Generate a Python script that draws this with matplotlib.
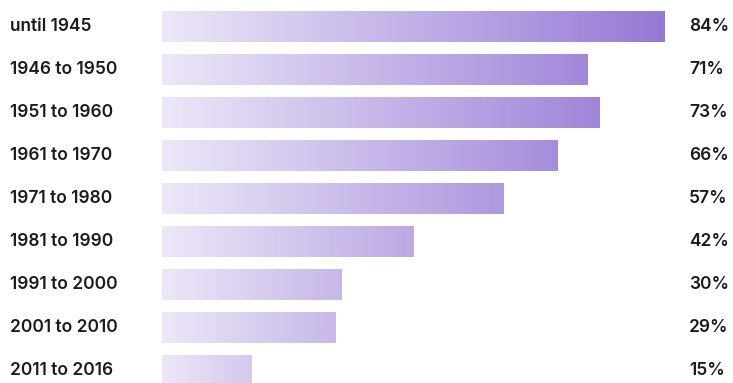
import matplotlib
matplotlib.use("Agg")
import matplotlib.pyplot as plt
import numpy as np
from matplotlib.colors import LinearSegmentedColormap

# share of buildings per construction period
periods = ["until 1945", "1946 to 1950", "1951 to 1960", "1961 to 1970",
           "1971 to 1980", "1981 to 1990", "1991 to 2000", "2001 to 2010",
           "2011 to 2016"]
shares = [84, 71, 73, 66, 57, 42, 30, 29, 15]
share_labels = ["84%", "71%", "73%", "66%", "57%", "42%", "30%", "29%", "15%"]

plt.rcParams["font.family"] = ["Inter", "DejaVu Sans"]

W, H, DPI = 733, 383, 100
fig = plt.figure(figsize=(W / DPI, H / DPI), dpi=DPI)
fig.patch.set_facecolor("white")

# axes run from the bar baseline to the right edge of the figure
x0 = 162
ax = fig.add_axes([x0 / W, 0, 1 - x0 / W, 1])
px_per_unit = (665 - x0) / 84
ax.set_xlim(0, (W - x0) / px_per_unit)
row = 43
ax.set_axis_off()

cmap = LinearSegmentedColormap.from_list("lilac", ["#ede7f8", "#9579d5"])
vmax = max(shares)
bar_h = 0.70

bars = ax.barh(range(len(shares)), shares, height=bar_h, color="none",
               edgecolor="none")
for i, (bar, v) in enumerate(zip(bars, shares)):
    # shorter bars end a little darker than the shared scale would give
    end = min(1.0, 0.12 + 0.88 * v / vmax)
    grad = np.linspace(0, end, 256).reshape(1, -1)
    im = ax.imshow(grad, cmap=cmap, vmin=0, vmax=1, aspect="auto",
                   extent=(0, v, i + bar_h / 2, i - bar_h / 2),
                   interpolation="bilinear", zorder=2)
    im.set_clip_path(bar)

ax.set_ylim((H - 26.5) / row, -26.5 / row)

for i, (name, lab) in enumerate(zip(periods, share_labels)):
    y = 1 - (26.5 + row * i) / H
    fig.text(10 / W, y, name, ha="left", va="center", fontsize=12.5,
             fontweight="semibold", color="#1c1c1c")
    fig.text(689 / W, y, lab, ha="left", va="center", fontsize=12.5,
             fontweight="semibold", color="#1c1c1c")

fig.savefig("out.png", dpi=DPI, facecolor="white")
